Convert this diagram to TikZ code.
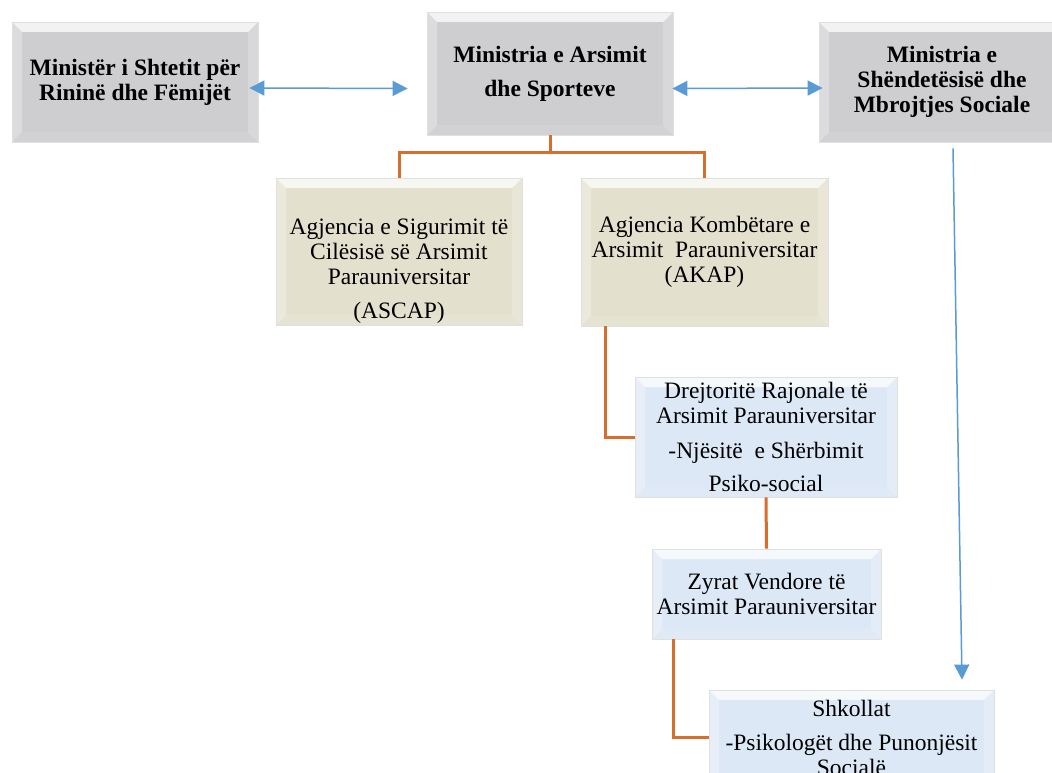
\documentclass[tikz,border=0pt]{standalone}
\usepackage{fontspec}
\setmainfont{Liberation Serif}
\usetikzlibrary{arrows.meta}

\definecolor{boxgrey}{RGB}{206,205,208}
\definecolor{boxbeige}{RGB}{227,224,205}
\definecolor{boxblue}{RGB}{221,232,246}
\definecolor{linkorange}{RGB}{214,110,45}
\definecolor{linkblue}{RGB}{91,155,213}

\begin{document}
\begin{tikzpicture}[x=1pt, y=-1pt,
		bevel/.style={path picture={
			\coordinate (nw) at (path picture bounding box.north west);
			\coordinate (ne) at (path picture bounding box.north east);
			\coordinate (sw) at (path picture bounding box.south west);
			\coordinate (se) at (path picture bounding box.south east);
			\fill[white, opacity=.75] (nw) -- (ne) -- ([shift={(-10pt,-10pt)}]ne) -- ([shift={(10pt,-10pt)}]nw) -- cycle;
			\fill[white, opacity=.3] (nw) -- (sw) -- ([shift={(10pt,10pt)}]sw) -- ([shift={(10pt,-10pt)}]nw) -- cycle;
			\fill[white, opacity=.22] (ne) -- (se) -- ([shift={(-10pt,10pt)}]se) -- ([shift={(-10pt,-10pt)}]ne) -- cycle;
			\fill[white, opacity=.1] (sw) -- (se) -- ([shift={(-10pt,10pt)}]se) -- ([shift={(10pt,10pt)}]sw) -- cycle;
		}},
		unit/.style={draw=white!88!black, line width=0.8pt, fill=#1, bevel, align=center, inner sep=0pt, font=\fontsize{23.5}{25}\selectfont},
		ministry/.style={unit=boxgrey, font=\fontsize{23.5}{25}\selectfont\bfseries},
		agency/.style={unit=boxbeige},
		office/.style={unit=boxblue},
		orangelink/.style={draw=linkorange, line width=3pt},
		bluelink/.style={draw=linkblue, line width=1.5pt, {Triangle[length=15pt,width=15pt]}-{Triangle[length=15pt,width=15pt]}},
	]
	\clip (0,0) rectangle (1052,773);
	\fill[white] (0,0) rectangle (1052,773);

	% ministries
	\node[ministry, minimum width=246, minimum height=120] (minister) at (135,82) {Ministër i Shtetit për\\Rininë dhe Fëmijët};
	\node[ministry, minimum width=246, minimum height=123] (mas) at (550,73.5) {Ministria e Arsimit\\[9pt]dhe Sporteve};
	\node[ministry, minimum width=246, minimum height=120] (mshms) at (942,82) {Ministria e\\Shëndetësisë dhe\\Mbrojtjes Sociale};

	% agencies
	\node[agency, minimum width=246, minimum height=147] (ascap) at (399,251.5) {\rule{0pt}{54pt}Agjencia e Sigurimit të\\Cilësisë së Arsimit\\Parauniversitar\\[9pt](ASCAP)};
	\node[agency, minimum width=247, minimum height=148] (akap) at (704.5,252) {Agjencia Kombëtare e\\Arsimit\ \ Parauniversitar\\(AKAP)};

	% local level
	\node[office, minimum width=262, minimum height=120] (drejt) at (766,437) {Drejtoritë Rajonale të\\Arsimit Parauniversitar\\[10pt]-Njësitë\ \ e Shërbimit\\[8pt]Psiko-social};
	\node[office, minimum width=229, minimum height=90] (zyrat) at (766.5,594) {Zyrat Vendore të\\Arsimit Parauniversitar};
	\node[office, minimum width=285, minimum height=95] (shkollat) at (851.5,737.5) {Shkollat\\[9pt]-Psikologët dhe Punonjësit\\Socialë};

	% hierarchy
	\draw[orangelink] (mas.south) -- ++(0,17) -| (ascap.north);
	\draw[orangelink] (mas.south) -- ++(0,17) -| (akap.north);
	\draw[orangelink] ([xshift=25pt]akap.south west) |- (drejt.west);
	\draw[orangelink] (drejt.south) -- (zyrat.north);
	\draw[orangelink] ([xshift=22pt]zyrat.south west) |- ([yshift=0.5pt]shkollat.west);

	% cooperation
	\draw[bluelink] ([shift={(-9pt,-6pt)}]minister.east) -- ([shift={(-19pt,-15pt)}]mas.west);
	\draw[bluelink] ([shift={(-1pt,-15pt)}]mas.east) -- ([shift={(4pt,-6pt)}]mshms.west);
	\draw[bluelink, {Triangle[length=15pt,width=15pt]}-] ([shift={(110.5pt,10pt)}]shkollat.north) -- ([shift={(11pt,-6pt)}]mshms.south);
\end{tikzpicture}
\end{document}
